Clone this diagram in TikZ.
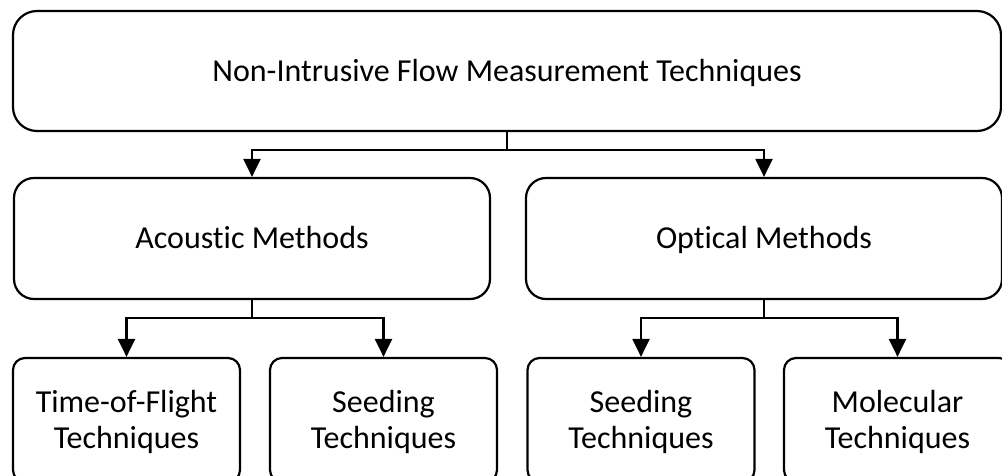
\documentclass[tikz,border=0pt]{standalone}
\usepackage{fontspec}
\setmainfont[Ligatures=NoCommon]{Carlito}
\usetikzlibrary{arrows.meta}

\tikzset{
  boxtext/.style={font=\fontsize{16}{18}\selectfont, text height=10.4pt, text depth=0pt},
  topbox/.style={draw, line width=1.1pt, rounded corners=12pt, minimum width=494pt, minimum height=60pt, boxtext},
  midbox/.style={draw, line width=1.1pt, rounded corners=10pt, minimum width=238pt, minimum height=60.5pt, boxtext},
  leafbox/.style={draw, line width=1.1pt, rounded corners=6pt, minimum width=113.5pt, minimum height=62pt, align=center, boxtext, text height=28.4pt},
  arr/.style={line width=1.1pt, -{Triangle[length=9pt,width=8.5pt]}}
}

\begin{document}
\begin{tikzpicture}[x=0.5pt,y=-0.5pt]
  \useasboundingbox (0,0) rectangle (1002,476);
  \clip (0,0) rectangle (1002,476);

  % levels
  \node[topbox] (top) at (507,71) {Non-Intrusive Flow Measurement Techniques};
  \node[midbox] (acoustic) at (252,238.5) {Acoustic Methods};
  \node[midbox] (optical) at (764,238.5) {Optical Methods};
  \node[leafbox] (tof) at (126.5,420) {Time-of-Flight\\Techniques};
  \node[leafbox] (seedA) at (383.5,420) {Seeding\\Techniques};
  \node[leafbox] (seedO) at (641,420) {Seeding\\Techniques};
  \node[leafbox] (molecular) at (897.5,420) {Molecular\\Techniques};

  % connectors
  \draw[arr] (top.south) -- ++(0,18) -| (acoustic.north);
  \draw[arr] (top.south) -- ++(0,18) -| (optical.north);
  \draw[arr] (acoustic.south) -- ++(0,18) -| (tof.north);
  \draw[arr] (acoustic.south) -- ++(0,18) -| (seedA.north);
  \draw[arr] (optical.south) -- ++(0,18) -| (seedO.north);
  \draw[arr] (optical.south) -- ++(0,18) -| (molecular.north);
\end{tikzpicture}
\end{document}
